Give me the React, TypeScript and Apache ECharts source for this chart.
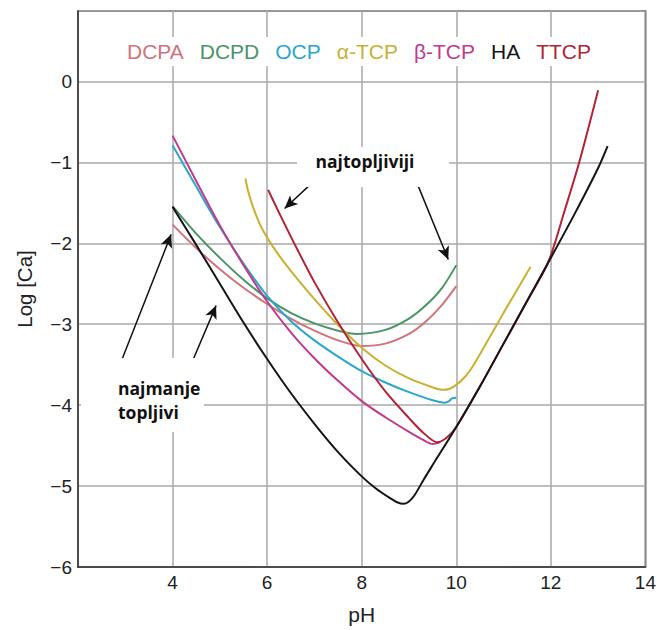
import React, { useEffect, useRef } from "react";
import * as echarts from "echarts";

// Legend / series names and colours
const seriesNames = ["DCPA", "DCPD", "OCP", "α-TCP", "β-TCP", "HA", "TTCP"];
const seriesColors = ["#d0737c", "#4b9467", "#2aa7cb", "#c8b131", "#c13a8c", "#151515", "#b02436"];

// [pH, log Ca]
const dcpa = [[4.0, -1.77], [4.5, -2.06], [5.0, -2.32], [5.5, -2.55], [6.0, -2.75], [6.5, -2.93], [7.0, -3.08], [7.5, -3.2], [8.0, -3.27], [8.5, -3.24], [9.0, -3.12], [9.35, -2.97], [9.7, -2.76], [10.0, -2.53]];
const dcpd = [[4.0, -1.54], [4.5, -1.88], [5.0, -2.18], [5.5, -2.45], [6.0, -2.68], [6.5, -2.86], [7.0, -2.99], [7.5, -3.08], [7.9, -3.12], [8.5, -3.07], [9.0, -2.93], [9.35, -2.77], [9.7, -2.55], [10.0, -2.27]];
const ocp = [[4.0, -0.79], [4.5, -1.3], [5.0, -1.8], [5.5, -2.25], [6.0, -2.65], [6.5, -2.96], [7.0, -3.2], [7.5, -3.4], [8.0, -3.58], [8.5, -3.72], [9.0, -3.84], [9.5, -3.94], [9.75, -3.97], [9.85, -3.95], [9.9, -3.92], [10.0, -3.91]];
const aTcp = [[5.54, -1.2], [5.6, -1.36], [5.7, -1.55], [5.85, -1.77], [6.0, -1.93], [6.25, -2.15], [6.5, -2.34], [7.0, -2.69], [7.5, -3.01], [8.0, -3.29], [8.5, -3.51], [9.0, -3.67], [9.5, -3.78], [9.7, -3.81], [9.85, -3.8], [10.0, -3.75], [10.2, -3.64], [10.35, -3.52], [10.6, -3.27], [11.0, -2.86], [11.57, -2.29]];
const bTcp = [[4.0, -0.67], [4.5, -1.23], [5.0, -1.78], [5.5, -2.27], [6.0, -2.72], [6.5, -3.1], [7.0, -3.42], [7.5, -3.7], [8.0, -3.95], [8.5, -4.15], [9.0, -4.33], [9.3, -4.43], [9.5, -4.48], [9.65, -4.46]];
const ha = [[4.0, -1.55], [4.5, -2.02], [5.0, -2.5], [5.5, -2.98], [6.0, -3.43], [6.5, -3.85], [7.0, -4.23], [7.5, -4.58], [8.0, -4.88], [8.3, -5.03], [8.6, -5.15], [8.75, -5.2], [8.88, -5.22], [9.0, -5.19], [9.12, -5.11], [9.3, -4.93], [9.5, -4.74], [10.0, -4.27], [10.5, -3.77], [11.0, -3.24], [11.5, -2.71], [12.0, -2.18], [12.5, -1.64], [13.0, -1.07], [13.2, -0.8]];
const ttcp = [[6.02, -1.34], [6.3, -1.68], [6.65, -2.09], [7.0, -2.48], [7.5, -2.98], [8.0, -3.43], [8.5, -3.83], [9.0, -4.16], [9.3, -4.34], [9.6, -4.46], [9.8, -4.4], [10.0, -4.27], [10.5, -3.77], [11.0, -3.24], [11.5, -2.71], [11.94, -2.24], [12.3, -1.58], [12.6, -1.0], [13.0, -0.11]];
const seriesData = [dcpa, dcpd, ocp, aTcp, bTcp, ha, ttcp];

// Annotation arrows (tail -> tip) in data coordinates
const arrowTails = [[7.03, -1.21], [9.2, -1.3], [2.94, -3.42], [4.44, -3.43]];
const arrowTips = [[6.37, -1.57], [9.83, -2.2], [3.97, -1.89], [4.92, -2.77]];

// Axis settings
const xMin = 2, xMax = 14, xStep = 2;
const yMin = -6, yMax = 0.87, yStep = 1;

const FONT = "'Liberation Sans', Arial, sans-serif";
const BOLD_FONT = "'Open Sans', 'Noto Sans', sans-serif";

export default function App() {
  const ref = useRef<HTMLDivElement>(null);
  useEffect(() => {
    if (!ref.current) return;
    const chart = echarts.init(ref.current, undefined, { renderer: "svg" });
    const axisLine = { show: true, onZero: false, lineStyle: { color: "#333", width: 1.5 } };
    const split = { show: true, lineStyle: { color: "#a8a8a8", width: 1.5 } };
    const lines = seriesNames.map((name, i) => ({
      name,
      type: "line",
      data: seriesData[i],
      showSymbol: false,
      smooth: 0.3,
      z: i === 5 ? 3 : 2,
      lineStyle: { color: seriesColors[i], width: 2 },
      itemStyle: { color: seriesColors[i] },
    }));
    const arrows = {
      name: "arrows",
      type: "line",
      data: [],
      markLine: {
        silent: true,
        animation: false,
        symbol: ["none", "arrow"],
        symbolSize: [9, 13],
        lineStyle: { color: "#111", width: 1.5, type: "solid" },
        label: { show: false },
        data: arrowTails.map((t, i) => [{ coord: t }, { coord: arrowTips[i] }]),
      },
    };
    const boldText = { fontFamily: BOLD_FONT, fontWeight: "bold", fontSize: 17.5, fill: "#111" };
    chart.setOption({
      animation: false,
      backgroundColor: "#fff",
      grid: { left: 78, right: 12, top: 11, bottom: 58, show: true, borderColor: "#333", borderWidth: 1.5 },
      legend: {
        left: 116,
        top: 37,
        icon: "none",
        itemWidth: 0,
        itemHeight: 14,
        itemGap: 11,
        padding: [4, 6, 4, 6],
        backgroundColor: "#fff",
        selectedMode: false,
        textStyle: { fontSize: 21, fontFamily: FONT },
        data: seriesNames.map((n, i) => ({ name: n, textStyle: { color: seriesColors[i] } })),
      },
      xAxis: {
        type: "value",
        min: xMin,
        max: xMax,
        interval: xStep,
        axisLine,
        axisTick: { show: false },
        splitLine: split,
        axisLabel: {
          formatter: (v: number) => (v === xMin ? "" : String(v)),
          fontSize: 19,
          color: "#222",
          fontFamily: FONT,
          margin: 6,
        },
        name: "pH",
        nameLocation: "middle",
        nameGap: 37,
        nameTextStyle: { fontSize: 21, color: "#222", fontFamily: FONT },
      },
      yAxis: {
        type: "value",
        min: yMin,
        max: yMax,
        interval: yStep,
        axisLine,
        axisTick: { show: false },
        splitLine: split,
        axisLabel: {
          formatter: (v: number) =>
            Number.isInteger(v) ? (v < 0 ? "\u2212" + Math.abs(v) : String(v)) : "",
          fontSize: 19,
          color: "#222",
          fontFamily: FONT,
          margin: 6,
        },
        name: "Log [Ca]",
        nameLocation: "middle",
        nameGap: 43,
        nameTextStyle: { fontSize: 20.5, color: "#222", fontFamily: FONT },
      },
      graphic: [
        { type: "rect", z: 10, shape: { x: 297, y: 147, width: 152, height: 40 }, style: { fill: "#fff" } },
        {
          type: "text", z: 11, x: 365, y: 161,
          style: { ...boldText, text: "najtopljiviji", align: "center", textAlign: "center", verticalAlign: "middle", textVerticalAlign: "middle" },
        },
        { type: "rect", z: 10, shape: { x: 81, y: 358, width: 123, height: 74 }, style: { fill: "#fff" } },
        {
          type: "text", z: 11, x: 118, y: 388,
          style: { ...boldText, text: "najmanje", align: "left", textAlign: "left", verticalAlign: "middle", textVerticalAlign: "middle" },
        },
        {
          type: "text", z: 11, x: 118, y: 412,
          style: { ...boldText, text: "topljivi", align: "left", textAlign: "left", verticalAlign: "middle", textVerticalAlign: "middle" },
        },
      ],
      series: [...lines, arrows],
    });
    return () => chart.dispose();
  }, []);
  return (
    <div
      ref={ref}
      style={{ position: "absolute", left: 0, top: 0, width: 659, height: 630, background: "#fff" }}
    />
  );
}
